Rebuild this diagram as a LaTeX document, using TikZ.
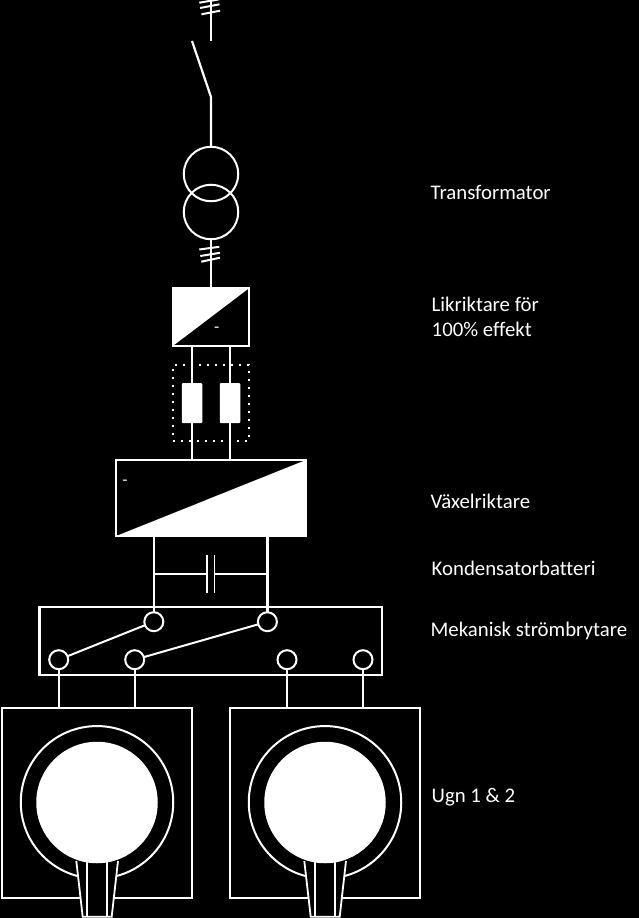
\documentclass[tikz,border=0pt]{standalone}
\usepackage{fontspec}
\setmainfont[Ligatures=NoCommon]{Carlito}
\begin{document}
\begin{tikzpicture}[x=1pt,y=-1pt,
  ln/.style={draw=white,line width=2.2pt},
  box/.style={draw=white,line width=2.2pt,inner sep=0pt,outer sep=0pt,anchor=north west,rectangle},
  contact/.style={circle,draw=white,line width=2pt,inner sep=0pt,outer sep=0pt,minimum size=19pt,fill=black},
  winding/.style={circle,draw=white,line width=2pt,inner sep=0pt,outer sep=0pt,minimum size=54.5pt},
  res/.style={rectangle,rounded corners=1pt,fill=white,inner sep=0pt,outer sep=0pt,minimum width=20.5pt,minimum height=40pt},
  lab/.style={text=white,font=\fontsize{20.8pt}{25pt}\selectfont,anchor=west,inner sep=0pt,align=left},
  dashlab/.style={text=white,font=\fontsize{17pt}{17pt}\selectfont,inner sep=0pt}]
\path[fill=black,use as bounding box] (0,0) rectangle (639,918);

% feed, disconnector and transformer
\coordinate (feed) at (211,-2);
\coordinate (swtop) at (211,41);
\coordinate (swhinge) at (211,97);
\coordinate (swblade) at (192,41);
\node[winding] (t1) at (211,174) {};
\node[winding] (t2) at (211,212) {};
\draw[ln] (feed) -- (swtop);
\draw[ln] (swblade) -- (swhinge) -- (t1.north);
\foreach \a/\b/\c/\d in {199.3/2.7/219.3/-0.7,200/8/219.5/4.3,201.5/14.3/220/10.7}
  \draw[ln,line width=2pt] (\a,\b) -- (\c,\d);
\foreach \a/\b/\c/\d in {199.3/249.5/219.3/246.8,200.3/256/220/252.8,201.3/261.7/220/257.7}
  \draw[ln,line width=2pt] (\a,\b) -- (\c,\d);

% rectifier
\node[box,minimum width=76.5pt,minimum height=58pt] (rect) at (172.8,288) {};
\fill[white] (rect.south west) -- (rect.north west) -- (rect.north east) -- cycle;
\draw[ln] (t2.south) -- (rect.north -| t2.south);
\node[dashlab] (rectminus) at (216.7,330) {-};

% smoothing reactors
\node[res] (r1) at (192,403) {};
\node[res] (r2) at (230,403) {};
\node[box,minimum width=76.5pt,minimum height=75.5pt,dash pattern=on 2.2pt off 5.8pt] (dots) at (172.8,365.2) {};

% inverter
\node[box,minimum width=189.8pt,minimum height=76pt] (inv) at (116.2,460) {};
\fill[white] (inv.south west) -- (inv.south east) -- (inv.north east) -- cycle;
\node[dashlab] (invminus) at (125,482.7) {-};
\draw[ln] (rect.south -| r1.north) -- (r1.north);
\draw[ln] (rect.south -| r2.north) -- (r2.north);
\draw[ln] (r1.south) -- (inv.north -| r1.south);
\draw[ln] (r2.south) -- (inv.north -| r2.south);

% mechanical switch
\node[box,minimum width=342.7pt,minimum height=68pt] (sw) at (39.5,606.8) {};
\node[contact] (c1) at (153.8,621.7) {};
\node[contact] (c2) at (267.4,621.7) {};
\node[contact] (o1) at (58.7,659.7) {};
\node[contact] (o2) at (134.7,659.7) {};
\node[contact] (o3) at (287,659.7) {};
\node[contact] (o4) at (363,659.7) {};
\draw[ln,line width=2pt] (c1) -- (o1);
\draw[ln,line width=2pt] (c2) -- (o2);
\draw[ln] (inv.south -| c1.north) -- (c1.north);
\draw[ln] (inv.south -| c2.north) -- (c2.north);

% capacitor bank
\coordinate (capl) at (206.8,574);
\coordinate (capr) at (214.4,574);
\draw[ln] (c1.north |- capl) -- (capl);
\draw[ln] (capr) -- (c2.north |- capr);
\draw[ln,line width=1.8pt] (206.8,555) -- (206.8,593.3);
\draw[ln,line width=1.8pt] (214.4,555) -- (214.4,593.3);

% furnaces
\foreach \n/\dx in {a/0,b/228}{
  \begin{scope}[xshift=\dx pt]
    \node[box,minimum width=190.5pt,minimum height=190pt] (oven\n) at (1.8,707.8) {};
    \node[circle,draw=white,line width=2pt,inner sep=0pt,minimum size=152.5pt] (ring\n) at (97,802.3) {};
    \fill[black] (76,860) -- (118.3,860) -- (111.7,916.7) -- (82.7,916.7) -- cycle;
    \node[circle,fill=white,inner sep=0pt,minimum size=121.5pt] (disc\n) at (97,802.5) {};
    \draw[ln,line width=1.8pt] (76.3,861) -- (82.7,916.7) -- (111.7,916.7) -- (118,861);
    \draw[ln,line width=2pt] (86.9,862) -- (86.9,916.7);
    \draw[ln,line width=2pt] (106.8,862) -- (106.8,916.7);
  \end{scope}
}
\draw[ln] (o1.south) -- (ovena.north -| o1.south);
\draw[ln] (o2.south) -- (ovena.north -| o2.south);
\draw[ln] (o3.south) -- (ovenb.north -| o3.south);
\draw[ln] (o4.south) -- (ovenb.north -| o4.south);

% labels
\node[lab] (l1) at (430.5,192.5) {Transformator};
\node[lab] (l2) at (431.5,317) {Likriktare för\\100\% effekt};
\node[lab] (l3) at (430.5,501.5) {Växelriktare};
\node[lab] (l4) at (431.5,568.5) {Kondensatorbatteri};
\node[lab] (l5) at (430.5,630.5) {Mekanisk strömbrytare};
\node[lab] (l6) at (431.5,797) {Ugn 1 \& 2};
\end{tikzpicture}
\end{document}
